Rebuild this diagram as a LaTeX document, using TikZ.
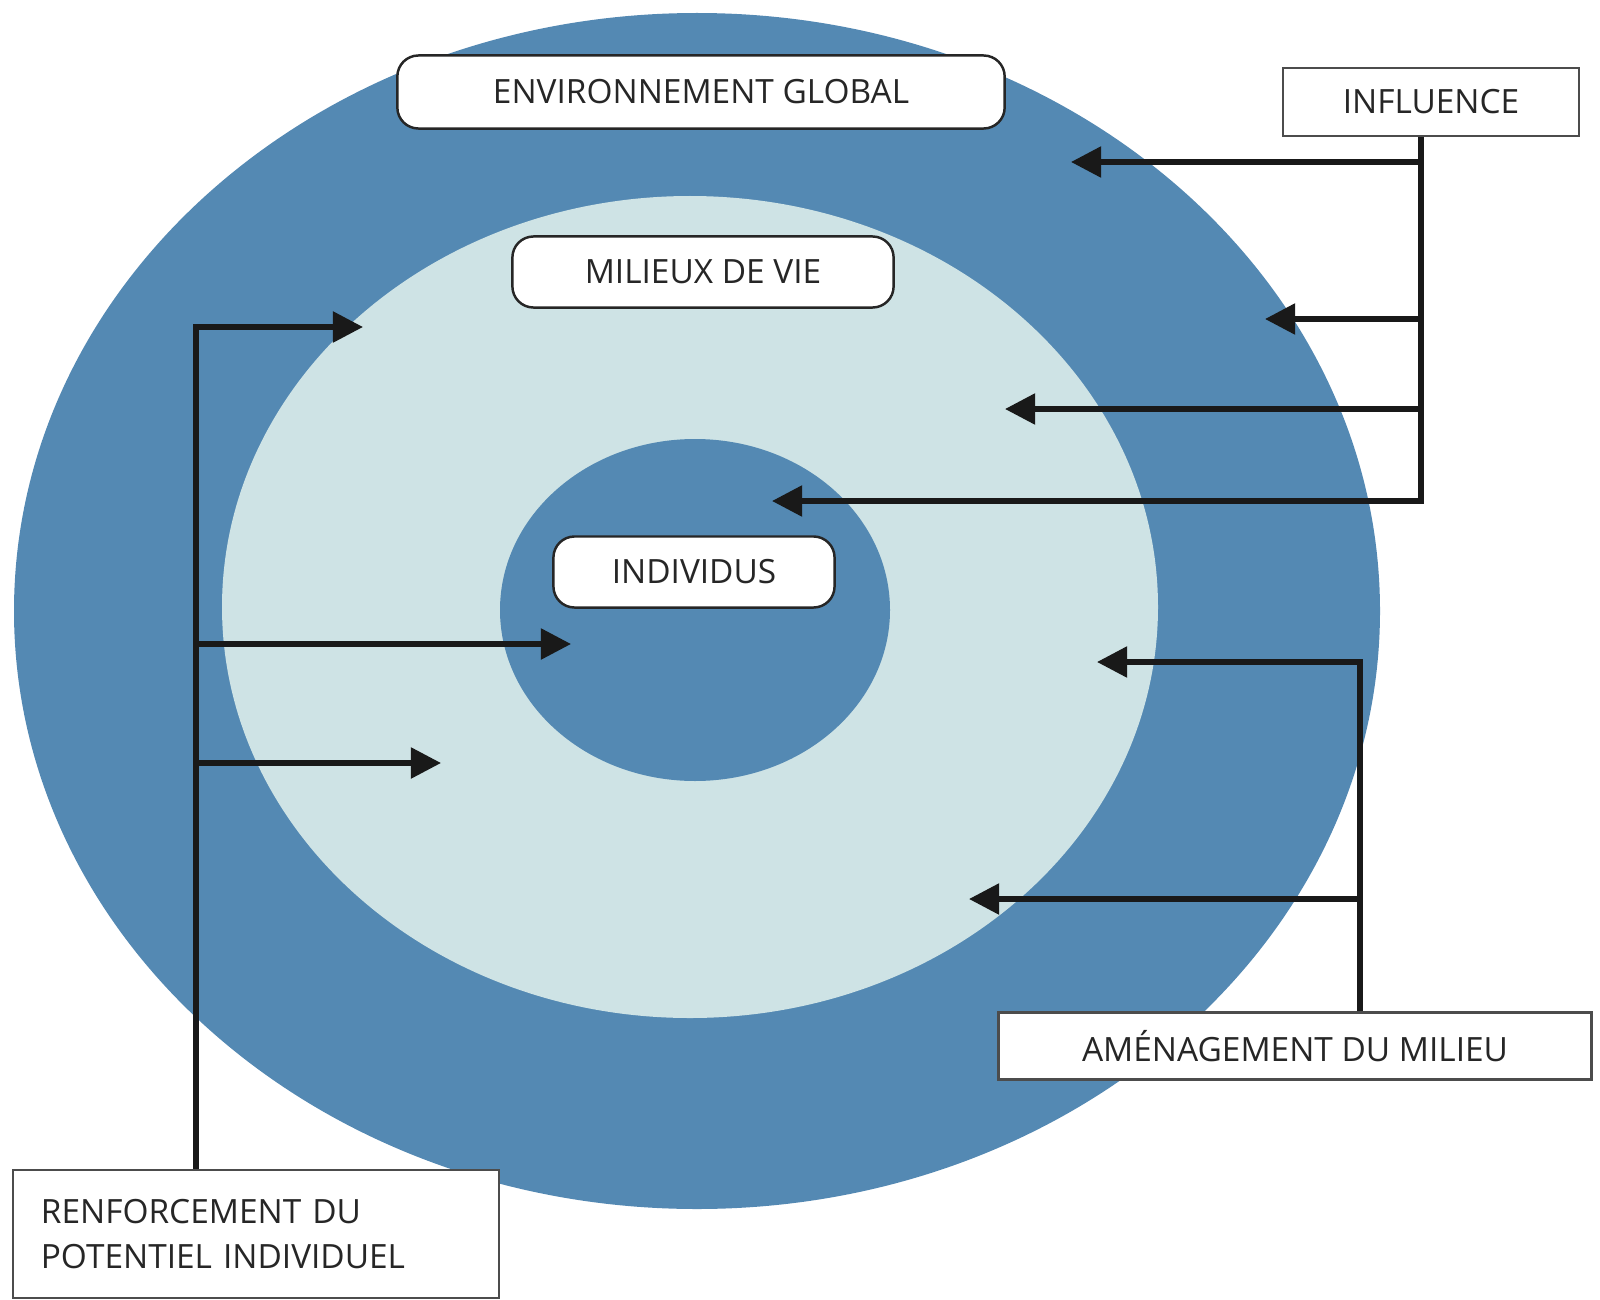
\documentclass[tikz,border=0pt]{standalone}
\usepackage{fontspec}
\setmainfont{Open Sans}
\usetikzlibrary{arrows.meta,positioning}
\definecolor{ringblue}{RGB}{84,137,179}
\definecolor{ringlight}{RGB}{206,227,229}

\begin{document}
\begin{tikzpicture}[x=0.01cm,y=-0.01cm,
boxtext/.style={
rectangle,
draw=black!70,
fill=white,
line width=0.7pt,
text=black!85,
font=\fontsize{9.5}{13}\selectfont,
inner sep=2pt
},
zone/.style={boxtext,rounded corners=6pt,draw=black!85},
line/.style={line width=1.5pt,black!90},
to/.style={line,-{Triangle[length=3mm,width=3mm]}}]

\useasboundingbox (0,0) rectangle (1600,1300);

% the three rings
\fill[ringblue] (697,611) ellipse [x radius=683, y radius=598];
\fill[ringlight] (690,607) ellipse [x radius=468, y radius=411];
\fill[ringblue] (695,610) ellipse [x radius=195, y radius=171];

% labels of the rings
\node (global) [zone,minimum width=6.07cm,minimum height=0.73cm] at (701,92) {ENVIRONNEMENT GLOBAL};
\node (milieux) [zone,minimum width=3.81cm,minimum height=0.71cm] at (703,272) {MILIEUX DE VIE};
\node (individus) [zone,minimum width=2.81cm,minimum height=0.71cm] at (694,572) {INDIVIDUS};

% action boxes
\node (influence) [boxtext,minimum width=2.96cm,minimum height=0.68cm] at (1431,102) {INFLUENCE};
\node (amenagement) [boxtext,minimum width=5.93cm,minimum height=0.67cm] at (1295,1046) {AMÉNAGEMENT DU MILIEU};
\node (renforcement) [boxtext,minimum width=4.86cm,minimum height=1.28cm,align=left,text width=4.3cm] at (256,1234) {RENFORCEMENT DU\\POTENTIEL INDIVIDUEL};

% influence arrows
\coordinate (inf1) at (1071,162);
\coordinate (inf2) at (1265,319);
\coordinate (inf3) at (1005,409);
\coordinate (inf4) at (772,501);
\coordinate (infx) at (1421,0);
\draw[to] (influence.south -| infx) |- (inf4);
\foreach \tip in {inf1,inf2,inf3}
  \draw[to] (\tip -| infx) -- (\tip);

% amenagement arrows
\coordinate (ame1) at (1097,662);
\coordinate (ame2) at (969,899);
\coordinate (amex) at (1360,0);
\draw[to] (amenagement.north -| amex) |- (ame1);
\draw[to] (ame2 -| amex) -- (ame2);

% renforcement arrows
\coordinate (ren1) at (363,327);
\coordinate (ren2) at (571,644);
\coordinate (ren3) at (441,763);
\coordinate (renx) at (196,0);
\draw[to] (renforcement.north -| renx) |- (ren1);
\foreach \tip in {ren2,ren3}
  \draw[to] (\tip -| renx) -- (\tip);
\end{tikzpicture}
\end{document}
